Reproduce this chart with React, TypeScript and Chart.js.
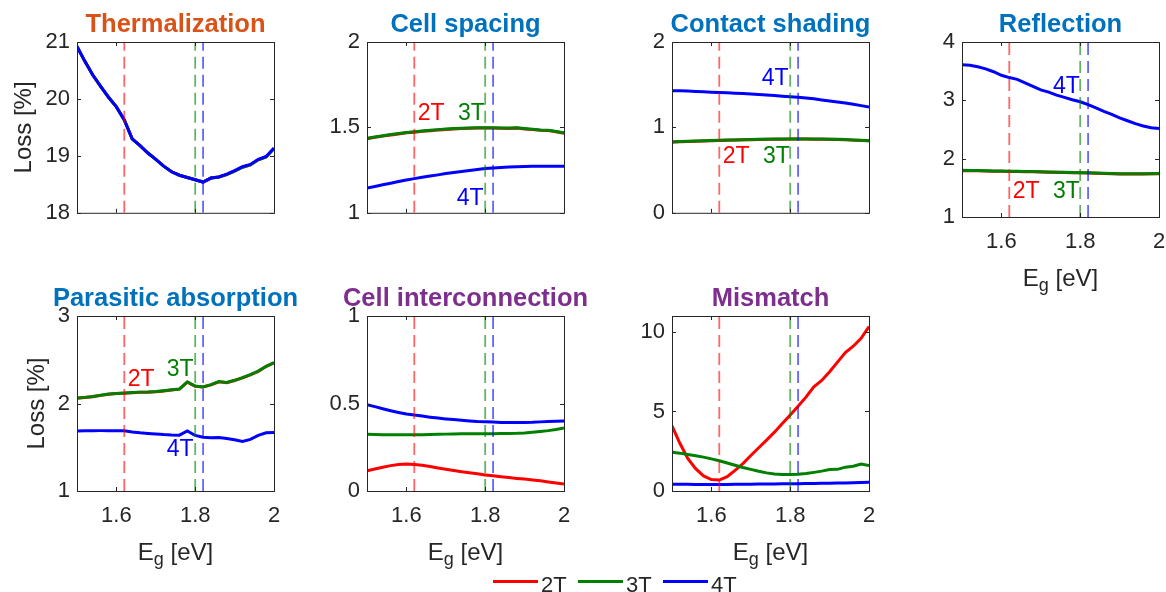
import React, { useEffect, useRef } from "react";
import { Chart, registerables } from "chart.js";

Chart.register(...registerables);

const FONT = "'Liberation Sans', Arial, Helvetica, sans-serif";
const AX = "#262626";
const ORANGE = "#D95319";
const BLUE_T = "#0072BD";
const PURPLE = "#7E2F8E";

// ---------- data ----------
const eg = [1.5, 1.52, 1.54, 1.56, 1.58, 1.6, 1.62, 1.64, 1.66, 1.68, 1.7, 1.72, 1.74, 1.76, 1.78, 1.8, 1.82, 1.84, 1.86, 1.88, 1.9, 1.92, 1.94, 1.96, 1.98, 2.0];
const xTickValues = [1.6, 1.8, 2.0];
const optimumEg = [1.62, 1.8, 1.82]; // 2T, 3T, 4T
const seriesNames = ["2T", "3T", "4T"];
const seriesColors = ["#ff0000", "#008000", "#0000ff"];
const dashColors = ["rgba(255,0,0,0.6)", "rgba(0,128,0,0.6)", "rgba(0,0,255,0.6)"];

const therm2T = [20.92, 20.66, 20.42, 20.22, 20.03, 19.86, 19.63, 19.3, 19.18, 19.05, 18.94, 18.82, 18.72, 18.66, 18.62, 18.58, 18.54, 18.61, 18.63, 18.67, 18.73, 18.8, 18.84, 18.93, 18.98, 19.13];
const therm3T = [20.92, 20.66, 20.42, 20.22, 20.03, 19.86, 19.63, 19.3, 19.18, 19.05, 18.94, 18.82, 18.72, 18.66, 18.62, 18.58, 18.54, 18.61, 18.63, 18.67, 18.73, 18.8, 18.84, 18.93, 18.98, 19.13];
const therm4T = [20.92, 20.66, 20.42, 20.22, 20.03, 19.86, 19.63, 19.3, 19.18, 19.05, 18.94, 18.82, 18.72, 18.66, 18.62, 18.58, 18.54, 18.61, 18.63, 18.68, 18.74, 18.81, 18.85, 18.94, 18.99, 19.14];

const spacing2T = [1.434, 1.442, 1.449, 1.456, 1.462, 1.468, 1.472, 1.477, 1.481, 1.485, 1.488, 1.491, 1.493, 1.495, 1.496, 1.496, 1.496, 1.495, 1.494, 1.496, 1.491, 1.487, 1.483, 1.482, 1.474, 1.466];
const spacing3T = [1.436, 1.444, 1.451, 1.458, 1.464, 1.47, 1.474, 1.479, 1.483, 1.487, 1.49, 1.493, 1.495, 1.497, 1.498, 1.498, 1.498, 1.497, 1.496, 1.498, 1.493, 1.489, 1.485, 1.484, 1.476, 1.468];
const spacing4T = [1.145, 1.154, 1.164, 1.173, 1.183, 1.192, 1.2, 1.208, 1.215, 1.222, 1.23, 1.236, 1.242, 1.248, 1.254, 1.259, 1.262, 1.265, 1.268, 1.27, 1.271, 1.272, 1.273, 1.273, 1.273, 1.273];

const shading2T = [0.828, 0.832, 0.835, 0.838, 0.841, 0.844, 0.847, 0.849, 0.851, 0.854, 0.856, 0.858, 0.86, 0.861, 0.862, 0.863, 0.863, 0.863, 0.862, 0.861, 0.86, 0.858, 0.855, 0.851, 0.847, 0.843];
const shading3T = [0.83, 0.834, 0.837, 0.84, 0.843, 0.846, 0.849, 0.851, 0.853, 0.856, 0.858, 0.86, 0.862, 0.863, 0.864, 0.865, 0.865, 0.865, 0.864, 0.863, 0.862, 0.86, 0.857, 0.853, 0.849, 0.845];
const shading4T = [1.43, 1.428, 1.425, 1.421, 1.417, 1.413, 1.409, 1.406, 1.401, 1.397, 1.392, 1.386, 1.38, 1.373, 1.366, 1.36, 1.352, 1.344, 1.335, 1.322, 1.31, 1.298, 1.285, 1.272, 1.255, 1.24];

const reflection2T = [1.795, 1.793, 1.791, 1.789, 1.786, 1.783, 1.781, 1.779, 1.777, 1.775, 1.772, 1.769, 1.766, 1.763, 1.76, 1.757, 1.754, 1.75, 1.746, 1.742, 1.739, 1.737, 1.737, 1.738, 1.74, 1.742];
const reflection3T = [1.8, 1.798, 1.796, 1.794, 1.79, 1.787, 1.785, 1.783, 1.78, 1.778, 1.775, 1.772, 1.769, 1.766, 1.763, 1.76, 1.757, 1.753, 1.749, 1.745, 1.742, 1.74, 1.74, 1.741, 1.743, 1.745];
const reflection4T = [3.61, 3.6, 3.575, 3.54, 3.49, 3.43, 3.39, 3.36, 3.3, 3.24, 3.18, 3.14, 3.09, 3.05, 3.01, 2.975, 2.925, 2.87, 2.81, 2.76, 2.7, 2.65, 2.6, 2.56, 2.53, 2.515];

const parasitic2T = [2.06, 2.068, 2.078, 2.093, 2.106, 2.113, 2.118, 2.123, 2.128, 2.129, 2.134, 2.144, 2.154, 2.164, 2.244, 2.198, 2.188, 2.213, 2.248, 2.238, 2.263, 2.293, 2.328, 2.368, 2.423, 2.465];
const parasitic3T = [2.063, 2.07, 2.08, 2.095, 2.108, 2.115, 2.12, 2.125, 2.13, 2.131, 2.136, 2.146, 2.156, 2.166, 2.246, 2.2, 2.19, 2.215, 2.25, 2.24, 2.265, 2.295, 2.33, 2.37, 2.425, 2.467];
const parasitic4T = [1.686, 1.688, 1.689, 1.69, 1.69, 1.69, 1.688, 1.675, 1.665, 1.658, 1.652, 1.645, 1.64, 1.638, 1.686, 1.635, 1.615, 1.61, 1.612, 1.6, 1.585, 1.565, 1.59, 1.635, 1.665, 1.67];

const interconnect2T = [0.116, 0.126, 0.136, 0.145, 0.151, 0.154, 0.152, 0.147, 0.14, 0.132, 0.124, 0.117, 0.11, 0.104, 0.098, 0.092, 0.087, 0.082, 0.077, 0.072, 0.068, 0.063, 0.058, 0.052, 0.046, 0.04];
const interconnect3T = [0.324, 0.323, 0.322, 0.322, 0.322, 0.322, 0.322, 0.322, 0.323, 0.324, 0.325, 0.326, 0.327, 0.327, 0.327, 0.327, 0.327, 0.328, 0.329, 0.33, 0.332, 0.336, 0.34, 0.345, 0.352, 0.36];
const interconnect4T = [0.493, 0.482, 0.47, 0.459, 0.449, 0.44, 0.434, 0.428, 0.422, 0.417, 0.412, 0.408, 0.404, 0.4, 0.397, 0.396, 0.394, 0.392, 0.391, 0.391, 0.392, 0.393, 0.395, 0.397, 0.399, 0.4];

const mismatch2T = [4.1, 3.0, 2.05, 1.4, 0.95, 0.72, 0.69, 0.9, 1.3, 1.72, 2.23, 2.72, 3.2, 3.7, 4.25, 4.78, 5.33, 5.9, 6.55, 6.95, 7.5, 8.1, 8.7, 9.1, 9.6, 10.34];
const mismatch3T = [2.44, 2.38, 2.3, 2.22, 2.13, 2.02, 1.9, 1.76, 1.62, 1.48, 1.36, 1.24, 1.14, 1.07, 1.04, 1.03, 1.05, 1.1, 1.17, 1.25, 1.35, 1.36, 1.5, 1.56, 1.7, 1.6];
const mismatch4T = [0.42, 0.42, 0.42, 0.415, 0.41, 0.41, 0.41, 0.415, 0.42, 0.425, 0.43, 0.435, 0.44, 0.445, 0.45, 0.455, 0.46, 0.465, 0.47, 0.48, 0.49, 0.5, 0.51, 0.52, 0.54, 0.55];

// ---------- layout ----------
const COL_LEFT = [77, 367, 672, 962];
const ROW_TOP = [42, 316];
const PLOT_W = 197;
const PLOT_H = 175;
const Y_AXIS_W = 77;
const PAD_T = 42;
const PAD_R = 34;

type Label = [number, number, number]; // series index, x, y (data units)
type PanelDef = {
  title: string;
  titleColor: string;
  col: number;
  row: number;
  yMin: number;
  yMax: number;
  yTicks: number[];
  series: number[][];
  showX: boolean;
  yTitlePad: number | null;
  labels: Label[];
};

const panels: PanelDef[] = [
  { title: "Thermalization", titleColor: ORANGE, col: 0, row: 0, yMin: 18, yMax: 21, yTicks: [18, 19, 20, 21], series: [therm2T, therm3T, therm4T], showX: false, yTitlePad: 10, labels: [] },
  { title: "Cell spacing", titleColor: BLUE_T, col: 1, row: 0, yMin: 1, yMax: 2, yTicks: [1, 1.5, 2], series: [spacing2T, spacing3T, spacing4T], showX: false, yTitlePad: null, labels: [[0, 1.629, 1.583], [1, 1.731, 1.583], [2, 1.728, 1.08]] },
  { title: "Contact shading", titleColor: BLUE_T, col: 2, row: 0, yMin: 0, yMax: 2, yTicks: [0, 1, 2], series: [shading2T, shading3T, shading4T], showX: false, yTitlePad: null, labels: [[2, 1.728, 1.566], [0, 1.629, 0.663], [1, 1.731, 0.663]] },
  { title: "Reflection", titleColor: BLUE_T, col: 3, row: 0, yMin: 1, yMax: 4, yTicks: [1, 2, 3, 4], series: [reflection2T, reflection3T, reflection4T], showX: true, yTitlePad: null, labels: [[2, 1.731, 3.229], [0, 1.629, 1.43], [1, 1.731, 1.43]] },
  { title: "Parasitic absorption", titleColor: BLUE_T, col: 0, row: 1, yMin: 1, yMax: 3, yTicks: [1, 2, 3], series: [parasitic2T, parasitic3T, parasitic4T], showX: true, yTitlePad: 23, labels: [[0, 1.629, 2.269], [1, 1.728, 2.383], [2, 1.728, 1.469]] },
  { title: "Cell interconnection", titleColor: PURPLE, col: 1, row: 1, yMin: 0, yMax: 1, yTicks: [0, 0.5, 1], series: [interconnect2T, interconnect3T, interconnect4T], showX: true, yTitlePad: null, labels: [] },
  { title: "Mismatch", titleColor: PURPLE, col: 2, row: 1, yMin: 0, yMax: 11, yTicks: [0, 5, 10], series: [mismatch2T, mismatch3T, mismatch4T], showX: true, yTitlePad: null, labels: [] },
];

const fmt = (v: number) => String(Math.round(v * 10) / 10);

function Panel({ p }: { p: PanelDef }) {
  const ref = useRef<HTMLCanvasElement | null>(null);
  const PB = p.showX ? 80 : 16;
  const W = Y_AXIS_W + PLOT_W + PAD_R;
  const H = PAD_T + PLOT_H + PB;
  const left = COL_LEFT[p.col] - Y_AXIS_W;
  const top = ROW_TOP[p.row] - PAD_T;

  useEffect(() => {
    const canvas = ref.current;
    if (!canvas) return;
    const datasets: any[] = [];
    optimumEg.forEach((e, i) => {
      datasets.push({
        data: [
          { x: e, y: p.yMin },
          { x: e, y: p.yMax },
        ],
        borderColor: dashColors[i],
        borderWidth: 1.8,
        borderDash: [12, 6],
        pointRadius: 0,
        order: 0,
      });
    });
    p.series.forEach((s, i) => {
      datasets.push({
        label: seriesNames[i],
        data: eg.map((x, j) => ({ x, y: s[j] })),
        borderColor: seriesColors[i],
        borderWidth: 3,
        pointRadius: 0,
        tension: 0,
        order: 3 - i,
      });
    });

    const decor = {
      id: "decor",
      afterDatasetsDraw(chart: any) {
        const { ctx, chartArea: a, scales } = chart;
        const xs = scales.x;
        const ys = scales.y;
        ctx.save();
        // box
        ctx.strokeStyle = AX;
        ctx.lineWidth = 1;
        ctx.strokeRect(a.left + 0.5, a.top + 0.5, a.right - a.left, a.bottom - a.top);
        const line = (x1: number, y1: number, x2: number, y2: number) => {
          ctx.beginPath();
          ctx.moveTo(x1, y1);
          ctx.lineTo(x2, y2);
          ctx.stroke();
        };
        p.yTicks.forEach((v) => {
          const py = Math.round(ys.getPixelForValue(v)) + 0.5;
          line(a.left, py, a.left + 4, py);
          line(a.right, py, a.right - 4, py);
        });
        xTickValues.forEach((v) => {
          const px = Math.round(xs.getPixelForValue(v)) + 0.5;
          line(px, a.bottom, px, a.bottom - 4);
          line(px, a.top, px, a.top + 4);
        });
        // series annotations
        ctx.font = `23px ${FONT}`;
        ctx.textAlign = "left";
        ctx.textBaseline = "middle";
        p.labels.forEach(([si, lx, ly]) => {
          ctx.fillStyle = seriesColors[si];
          ctx.fillText(seriesNames[si], xs.getPixelForValue(lx), ys.getPixelForValue(ly));
        });
        // title
        ctx.font = `bold 25.5px ${FONT}`;
        ctx.textAlign = "center";
        ctx.textBaseline = "alphabetic";
        ctx.fillStyle = p.titleColor;
        ctx.fillText(p.title, (a.left + a.right) / 2, a.top - 10);
        // x-axis title with subscript
        if (p.showX) {
          ctx.fillStyle = AX;
          ctx.textAlign = "left";
          ctx.font = `24px ${FONT}`;
          const wE = ctx.measureText("E").width;
          const wR = ctx.measureText(" [eV]").width;
          ctx.font = `18px ${FONT}`;
          const wG = ctx.measureText("g").width;
          const x0 = (a.left + a.right) / 2 - (wE + wG + wR) / 2;
          const base = a.bottom + 69;
          ctx.font = `24px ${FONT}`;
          ctx.fillText("E", x0, base);
          ctx.fillText(" [eV]", x0 + wE + wG, base);
          ctx.font = `18px ${FONT}`;
          ctx.fillText("g", x0 + wE, base + 5);
        }
        ctx.restore();
      },
    };

    const chart = new Chart(canvas, {
      type: "line",
      data: { datasets },
      options: {
        responsive: false,
        animation: false,
        devicePixelRatio: 1,
        events: [],
        layout: { padding: { left: 0, right: PAD_R, top: PAD_T, bottom: 0 } },
        plugins: {
          legend: { display: false },
          tooltip: { enabled: false },
          title: { display: false },
        },
        scales: {
          x: {
            type: "linear",
            min: 1.5,
            max: 2,
            grid: { display: false, drawTicks: false, tickLength: 0 },
            border: { display: false },
            ticks: {
              display: p.showX,
              autoSkip: false,
              maxRotation: 0,
              padding: 12,
              color: AX,
              font: { family: FONT, size: 22 },
              callback: (v: any) => fmt(Number(v)),
            },
            afterBuildTicks: (s: any) => {
              s.ticks = xTickValues.map((v) => ({ value: v }));
            },
            afterFit: (s: any) => {
              s.height = PB;
            },
          },
          y: {
            type: "linear",
            min: p.yMin,
            max: p.yMax,
            grid: { display: false, drawTicks: false, tickLength: 0 },
            border: { display: false },
            ticks: {
              autoSkip: false,
              padding: 7,
              color: AX,
              font: { family: FONT, size: 22 },
              callback: (v: any) => fmt(Number(v)),
            },
            title: {
              display: p.yTitlePad !== null,
              text: "Loss [%]",
              color: AX,
              font: { family: FONT, size: 24 },
              padding: { top: p.yTitlePad ?? 0, bottom: 0 },
            },
            afterBuildTicks: (s: any) => {
              s.ticks = p.yTicks.map((v) => ({ value: v }));
            },
            afterFit: (s: any) => {
              s.width = Y_AXIS_W;
            },
          },
        },
      } as any,
      plugins: [decor],
    });
    return () => chart.destroy();
  }, []);

  return (
    <canvas
      ref={ref}
      width={W}
      height={H}
      style={{ position: "absolute", left, top, width: W, height: H }}
    />
  );
}

const legendItems = [
  { lineLeft: 493, textLeft: 541 },
  { lineLeft: 578, textLeft: 626 },
  { lineLeft: 663, textLeft: 711 },
];

function Legend() {
  return (
    <>
      {legendItems.map((it, i) => (
        <React.Fragment key={i}>
          <div
            style={{
              position: "absolute",
              left: it.lineLeft,
              top: 580,
              width: 45,
              height: 3,
              background: seriesColors[i],
            }}
          />
          <span
            style={{
              position: "absolute",
              left: it.textLeft,
              top: 574,
              fontFamily: FONT,
              fontSize: 22,
              lineHeight: "22px",
              color: AX,
              whiteSpace: "nowrap",
            }}
          >
            {seriesNames[i]}
          </span>
        </React.Fragment>
      ))}
    </>
  );
}

export default function App() {
  return (
    <div
      style={{
        position: "absolute",
        left: 0,
        top: 0,
        width: 1166,
        height: 592,
        overflow: "hidden",
        background: "#ffffff",
      }}
    >
      {panels.map((p, i) => (
        <Panel key={i} p={p} />
      ))}
      <Legend />
    </div>
  );
}
